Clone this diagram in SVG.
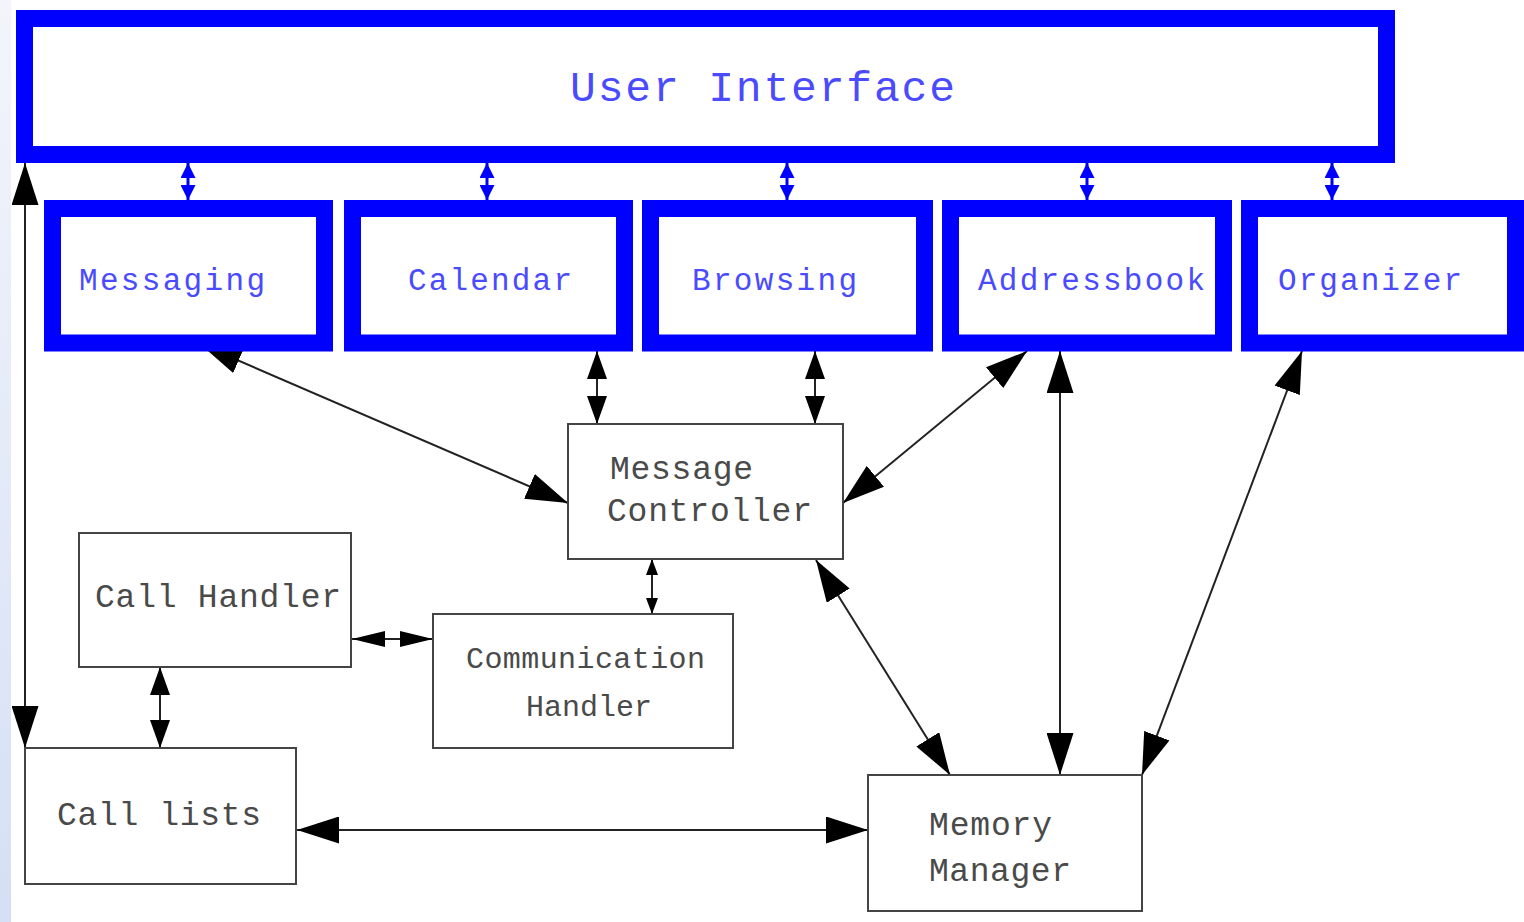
<svg xmlns="http://www.w3.org/2000/svg" width="1524" height="922" viewBox="0 0 1524 922">
<style>
.ui{fill:#fff;stroke:#0000ff;stroke-width:17}
.box{fill:#fff;stroke:#444;stroke-width:2}
.bt{font-family:"Liberation Mono","Courier New",monospace;fill:#4a4aff}
.gt{font-family:"Liberation Mono","Courier New",monospace;fill:#4a4a4a}
.c{stroke:#222;stroke-width:2;fill:none}
.cb{stroke:#0000ff;stroke-width:3;fill:none}
</style>
<defs>
<linearGradient id="strip" x1="0" y1="0" x2="0" y2="1">
<stop offset="0" stop-color="#f3f5fb"/>
<stop offset="1" stop-color="#d5dff5"/>
</linearGradient>
<marker id="big" markerUnits="userSpaceOnUse" markerWidth="42" markerHeight="27" refX="42" refY="13.5" orient="auto-start-reverse"><path d="M0,0 L42,13.5 L0,27 Z" fill="#000"/></marker>
<marker id="med" markerUnits="userSpaceOnUse" markerWidth="28" markerHeight="20" refX="28" refY="10" orient="auto-start-reverse"><path d="M0,0 L28,10 L0,20 Z" fill="#000"/></marker>
<marker id="flat" markerUnits="userSpaceOnUse" markerWidth="33" markerHeight="16" refX="33" refY="8" orient="auto-start-reverse"><path d="M0,0 L33,8 L0,16 Z" fill="#000"/></marker>
<marker id="small" markerUnits="userSpaceOnUse" markerWidth="16" markerHeight="12" refX="16" refY="6" orient="auto-start-reverse"><path d="M0,0 L16,6 L0,12 Z" fill="#000"/></marker>
<marker id="blue" markerUnits="userSpaceOnUse" markerWidth="15" markerHeight="15" refX="15" refY="7.5" orient="auto-start-reverse"><path d="M0,0 L15,7.5 L0,15 Z" fill="#0000ff"/></marker>
</defs>
<rect width="1524" height="922" fill="#fff"/>
<rect x="0" y="0" width="11" height="922" fill="url(#strip)"/>

<g id="connectors">
<line class="c" x1="25" y1="163" x2="25" y2="748" marker-start="url(#big)" marker-end="url(#big)"/>
<line class="c" x1="200" y1="344" x2="568" y2="503" marker-start="url(#big)" marker-end="url(#big)"/>
<line class="c" x1="597" y1="351" x2="597" y2="424" marker-start="url(#med)" marker-end="url(#med)"/>
<line class="c" x1="815" y1="351" x2="815" y2="424" marker-start="url(#med)" marker-end="url(#med)"/>
<line class="c" x1="1027" y1="351" x2="843" y2="503" marker-start="url(#big)" marker-end="url(#big)"/>
<line class="c" x1="1060" y1="351" x2="1060" y2="775" marker-start="url(#big)" marker-end="url(#big)"/>
<line class="c" x1="1302" y1="351" x2="1142" y2="775" marker-start="url(#big)" marker-end="url(#big)"/>
<line class="c" x1="816" y1="560" x2="950" y2="775" marker-start="url(#big)" marker-end="url(#big)"/>
<line class="c" x1="652" y1="559" x2="652" y2="614" marker-start="url(#small)" marker-end="url(#small)"/>
<line class="c" x1="352" y1="639" x2="433" y2="639" marker-start="url(#flat)" marker-end="url(#flat)"/>
<line class="c" x1="160" y1="667" x2="160" y2="748" marker-start="url(#med)" marker-end="url(#med)"/>
<line class="c" x1="297" y1="830" x2="868" y2="830" marker-start="url(#big)" marker-end="url(#big)"/>
<line class="cb" x1="188" y1="163" x2="188" y2="200" marker-start="url(#blue)" marker-end="url(#blue)"/>
<line class="cb" x1="487" y1="163" x2="487" y2="200" marker-start="url(#blue)" marker-end="url(#blue)"/>
<line class="cb" x1="787" y1="163" x2="787" y2="200" marker-start="url(#blue)" marker-end="url(#blue)"/>
<line class="cb" x1="1087" y1="163" x2="1087" y2="200" marker-start="url(#blue)" marker-end="url(#blue)"/>
<line class="cb" x1="1332" y1="163" x2="1332" y2="200" marker-start="url(#blue)" marker-end="url(#blue)"/>
</g>

<g id="user-interface">
<rect class="ui" x="24.5" y="18.5" width="1362" height="136"/>
<text class="bt" x="570" y="101" font-size="43" textLength="385" lengthAdjust="spacing">User Interface</text>
</g>
<g id="messaging">
<rect class="ui" x="52.5" y="208.5" width="272" height="134.5"/>
<text class="bt" x="79" y="290" font-size="31" textLength="186" lengthAdjust="spacing">Messaging</text>
</g>
<g id="calendar">
<rect class="ui" x="352.5" y="208.5" width="272" height="134.5"/>
<text class="bt" x="408" y="290" font-size="31" textLength="164" lengthAdjust="spacing">Calendar</text>
</g>
<g id="browsing">
<rect class="ui" x="650.5" y="208.5" width="274" height="134.5"/>
<text class="bt" x="692" y="290" font-size="31" textLength="165" lengthAdjust="spacing">Browsing</text>
</g>
<g id="addressbook">
<rect class="ui" x="950.5" y="208.5" width="273" height="134.5"/>
<text class="bt" x="978" y="290" font-size="31" textLength="227" lengthAdjust="spacing">Addressbook</text>
</g>
<g id="organizer">
<rect class="ui" x="1249.5" y="208.5" width="266" height="134.5"/>
<text class="bt" x="1278" y="290" font-size="31" textLength="184" lengthAdjust="spacing">Organizer</text>
</g>

<g id="message-controller">
<rect class="box" x="568" y="424" width="275" height="135"/>
<text class="gt" x="610" y="479" font-size="33" textLength="143" lengthAdjust="spacing">Message</text>
<text class="gt" x="607" y="521" font-size="33" textLength="205" lengthAdjust="spacing">Controller</text>
</g>
<g id="call-handler">
<rect class="box" x="79" y="533" width="272" height="134"/>
<text class="gt" x="95" y="607" font-size="33" textLength="246" lengthAdjust="spacing">Call Handler</text>
</g>
<g id="communication-handler">
<rect class="box" x="433" y="614" width="300" height="134"/>
<text class="gt" x="466" y="668" font-size="30" textLength="239" lengthAdjust="spacing">Communication</text>
<text class="gt" x="526" y="716" font-size="30" textLength="126" lengthAdjust="spacing">Handler</text>
</g>
<g id="call-lists">
<rect class="box" x="25" y="748" width="271" height="136"/>
<text class="gt" x="57" y="825" font-size="33" textLength="204" lengthAdjust="spacing">Call lists</text>
</g>
<g id="memory-manager">
<rect class="box" x="868" y="775" width="274" height="136"/>
<text class="gt" x="929" y="835" font-size="33" textLength="123" lengthAdjust="spacing">Memory</text>
<text class="gt" x="929" y="881" font-size="33" textLength="142" lengthAdjust="spacing">Manager</text>
</g>
</svg>
